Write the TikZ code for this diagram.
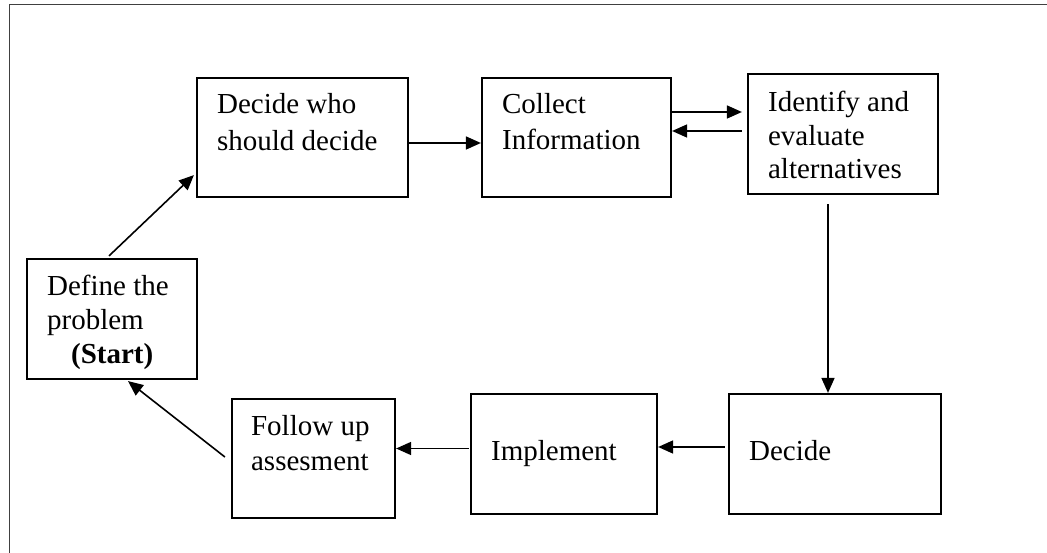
\documentclass[tikz,border=0pt]{standalone}
\usepackage{fontspec}
\setmainfont{Liberation Serif}
\usetikzlibrary{arrows.meta,calc}

\begin{document}
\begin{tikzpicture}[x=1pt,y=1pt,
  box/.style={draw=black, line width=2.2pt, rectangle, inner sep=0pt},
  lbl/.style={inner sep=0pt, anchor=north west, align=left, text=black},
  arr/.style={draw=black, line width=1.6pt, -{Triangle[length=15pt,width=13pt]}},
  frameline/.style={draw=black!75, line width=1pt}]

  \useasboundingbox (0,0) rectangle (1047,552);
  \clip (0,0) rectangle (1047,552);

  % outer frame (its right and bottom sides lie past the page)
  \draw[frameline] (9,-20) -- (9,547) -- (1070,547);

  % process boxes
  \node[box, minimum width=170pt, minimum height=120pt] (def) at (112,233) {};
  \node[box, minimum width=211pt, minimum height=119pt] (dw)  at (302.5,414.5) {};
  \node[box, minimum width=189pt, minimum height=119pt] (col) at (576.5,414.5) {};
  \node[box, minimum width=190pt, minimum height=120pt] (idf) at (843,418) {};
  \node[box, minimum width=212pt, minimum height=120pt] (dec) at (835,98) {};
  \node[box, minimum width=186pt, minimum height=120pt] (imp) at (564,98) {};
  \node[box, minimum width=163pt, minimum height=119pt] (fol) at (313.5,93.5) {};

  % box texts
  \node[lbl, font=\fontsize{29}{34}\selectfont] (deft) at ($(def.north west)+(21,-17.2)$)
    {Define the\\problem\\\hspace*{24pt}\textbf{(Start)}};
  \node[lbl, font=\fontsize{29}{37}\selectfont] (dwt) at ($(dw.north west)+(21,-16.2)$)
    {Decide who\\should decide};
  \node[lbl, font=\fontsize{29}{36}\selectfont] (colt) at ($(col.north west)+(21,-16.2)$)
    {Collect\\Information};
  \node[lbl, font=\fontsize{29}{33.5}\selectfont] (idft) at ($(idf.north west)+(21,-18.2)$)
    {Identify and\\evaluate\\alternatives};
  \node[lbl, font=\fontsize{29}{35}\selectfont] (decT) at ($(dec.north west)+(21,-47.2)$)
    {Decide};
  \node[lbl, font=\fontsize{29}{35}\selectfont] (impt) at ($(imp.north west)+(21,-47.2)$)
    {Implement};
  \node[lbl, font=\fontsize{29}{35}\selectfont] (folt) at ($(fol.north west)+(20,-17.2)$)
    {Follow up\\assesment};

  % connectors
  \draw[arr] ($(def.north)+(-3,2)$) -- ($(dw.south west)+(-2,23)$);
  \draw[arr] ([yshift=-5.5pt]dw.east) -- ([yshift=-5.5pt]col.west);
  \draw[arr] ([yshift=25.5pt]col.east) -- ([shift={(-5pt,22pt)}]idf.west);
  \draw[arr] ([shift={(-5pt,3pt)}]idf.west) -- ([yshift=6.5pt]col.east);
  \coordinate (drop) at ([shift={(-15pt,-9pt)}]idf.south);
  \draw[arr] (drop) -- (drop |- dec.north);
  \draw[arr] ([shift={(-3pt,7pt)}]dec.west) -- ([yshift=7pt]imp.east);
  \draw[arr] ([shift={(-1pt,5.5pt)}]imp.west) -- ([yshift=10pt]fol.east);
  \draw[arr] ([shift={(-6pt,1.5pt)}]fol.west) -- ([shift={(16pt,-1pt)}]def.south);
\end{tikzpicture}
\end{document}
